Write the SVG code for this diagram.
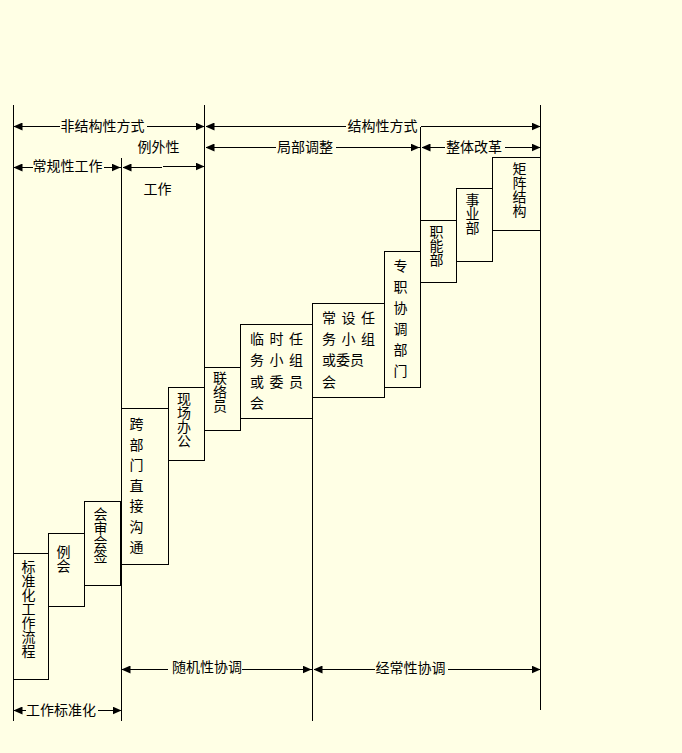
<svg xmlns="http://www.w3.org/2000/svg" width="682" height="753" viewBox="0 0 682 753">
<style>
.ln{stroke:#000;stroke-width:1;fill:none;shape-rendering:crispEdges}
.bx{stroke:#000;stroke-width:1;fill:none;shape-rendering:crispEdges}
.ar{stroke:#000;stroke-width:1;fill:none;shape-rendering:crispEdges;marker-start:url(#ah);marker-end:url(#ah)}
text{font-family:"Noto Sans CJK SC","Noto Sans CJK JP",sans-serif;font-size:14px;fill:#000}
.c{text-anchor:middle}
.v{writing-mode:vertical-rl;text-orientation:upright;text-anchor:middle}
.vs{letter-spacing:6.5px}
.vs2{letter-spacing:7px}
</style>
<defs>
<marker id="ah" viewBox="0 0 9 8" refX="9" refY="4" markerWidth="9" markerHeight="8" markerUnits="userSpaceOnUse" orient="auto-start-reverse">
<path d="M0,0 L9,4 L0,8 z" fill="#000"/>
</marker>
</defs>
<rect x="0" y="0" width="682" height="753" fill="#FFFFE5"/>

<g id="guides" transform="translate(0.5,0.5)">
<line class="ln" x1="13" y1="104" x2="13" y2="720"/>
<line class="ln" x1="121" y1="157" x2="121" y2="720"/>
<line class="ln" x1="204" y1="104" x2="204" y2="460"/>
<line class="ln" x1="312" y1="303" x2="312" y2="720"/>
<line class="ln" x1="420" y1="126" x2="420" y2="387"/>
<line class="ln" x1="540" y1="104" x2="540" y2="709"/>
</g>

<g id="connectors" transform="translate(0.5,0.5)">
<path class="ar" d="M13,126 H59 M146,126 H204"/>
<path class="ar" d="M205,126 H345 M420,126 H540"/>
<path class="ar" d="M205,147 H275 M335,147 H419"/>
<path class="ar" d="M421,147 H444 M504,147 H540"/>
<path class="ar" d="M13,167 H32 M103,167 H120"/>
<path class="ar" d="M122,167 H161 M162,166 H204"/>
<path class="ar" d="M121,669 H167 M241,669 H311"/>
<path class="ar" d="M313,669 H374 M447,669 H540"/>
<path class="ar" d="M13,710 H25 M97,710 H121"/>
</g>

<g id="labels">
<text class="c" x="102.5" y="131">非结构性方式</text>
<text class="c" x="382.5" y="131">结构性方式</text>
<text class="c" x="158.5" y="152">例外性</text>
<text class="c" x="305" y="152">局部调整</text>
<text class="c" x="474" y="152">整体改革</text>
<text class="c" x="67.5" y="171">常规性工作</text>
<text class="c" x="157.5" y="194">工作</text>
<text class="c" x="207" y="672">随机性协调</text>
<text class="c" x="410.5" y="673">经常性协调</text>
<text class="c" x="61" y="715">工作标准化</text>
</g>

<g id="n-standard">
<rect class="bx" x="13.5" y="553.5" width="35" height="126"/>
<text class="v" x="28.5" y="608.5">标准化工作流程</text>
</g>

<g id="n-meeting">
<rect class="bx" x="48.5" y="533.5" width="36" height="73"/>
<text class="v" x="63.5" y="559">例会</text>
</g>

<g id="n-review">
<rect class="bx" x="84.5" y="501.5" width="36" height="84"/>
<text class="v" x="100.5" y="534.5">会审会签</text>
</g>

<g id="n-cross">
<rect class="bx" x="121.5" y="408.5" width="47" height="156"/>
<text class="v vs" x="136.5" y="488.5">跨部门直接沟通</text>
</g>

<g id="n-onsite">
<rect class="bx" x="168.5" y="387.5" width="36" height="73"/>
<text class="v" x="184" y="419.5">现场办公</text>
</g>

<g id="n-liaison">
<rect class="bx" x="204.5" y="367.5" width="36" height="63"/>
<text class="v" x="220" y="392">联络员</text>
</g>

<g id="n-temp">
<rect class="bx" x="240.5" y="324.5" width="72" height="94"/>
<text x="250 269.5 289" y="344">临时任</text>
<text x="250 269.5 289" y="365">务小组</text>
<text x="250 269.5 289" y="387">或委员</text>
<text x="250" y="408">会</text>
</g>

<g id="n-standing">
<rect class="bx" x="312.5" y="303.5" width="72" height="94"/>
<text x="322 341.5 361" y="323">常设任</text>
<text x="322 341.5 361" y="344">务小组</text>
<text x="322" y="365">或委员</text>
<text x="322" y="387">会</text>
</g>

<g id="n-dedicated">
<rect class="bx" x="384.5" y="251.5" width="36" height="136"/>
<text class="v vs2" x="400.5" y="322">专职协调部门</text>
</g>

<g id="n-functional">
<rect class="bx" x="420.5" y="220.5" width="36" height="62"/>
<text class="v" x="436.5" y="245.5">职能部</text>
</g>

<g id="n-division">
<rect class="bx" x="456.5" y="188.5" width="36" height="73"/>
<text class="v" x="472.5" y="214">事业部</text>
</g>

<g id="n-matrix">
<rect class="bx" x="492.5" y="157.5" width="48" height="73"/>
<text class="v" x="519.5" y="190">矩阵结构</text>
</g>
</svg>
